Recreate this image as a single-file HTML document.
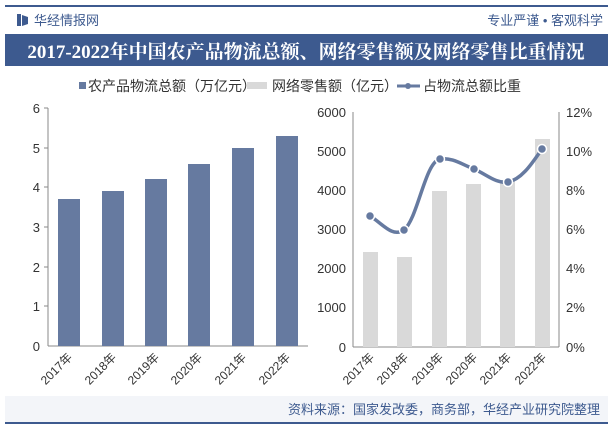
<!DOCTYPE html>
<html><head><meta charset="utf-8"><style>
body{margin:0;width:613px;height:427px;overflow:hidden;background:#fff;font-family:"Liberation Sans","Noto Sans CJK SC",sans-serif;}
</style></head><body>
<svg width="613" height="427" xmlns="http://www.w3.org/2000/svg" font-family="Liberation Sans, Noto Sans CJK SC, sans-serif">
<rect x="5" y="5" width="603" height="2" fill="#3d5a8f"/>
<rect x="17" y="14" width="4" height="12" fill="#3d5a8f"/><path d="M22 15 L28 17 L28 24 L22 26Z" fill="#3d5a8f"/>
<text x="34" y="25" font-size="13" fill="#3d5a8f">华经情报网</text>
<text x="603" y="25" font-size="13" fill="#3d5a8f" text-anchor="end">专业严谨 • 客观科学</text>
<rect x="5" y="34" width="603" height="32" fill="#3d5a8f"/>
<text x="306" y="58" font-size="19" font-weight="bold" fill="#fff" text-anchor="middle" font-family="Liberation Serif, Noto Serif CJK SC, serif">2017-2022年中国农产品物流总额、网络零售额及网络零售比重情况</text>
<rect x="79" y="82" width="7" height="7" fill="#667aa0"/>
<text x="88" y="91" font-size="14" fill="#333">农产品物流总额（万亿元）</text>
<rect x="247" y="82" width="20" height="7" fill="#d9d9d9"/>
<text x="272" y="91" font-size="14" fill="#333">网络零售额（亿元）</text>
<line x1="397" y1="86" x2="420" y2="86" stroke="#667aa0" stroke-width="3"/><circle cx="408" cy="86" r="3" fill="#667aa0"/>
<text x="423" y="91" font-size="14" fill="#333">占物流总额比重</text>
<g font-size="13" fill="#333">
<line x1="48" y1="108" x2="48" y2="346" stroke="#888"/><line x1="48" y1="346" x2="308" y2="346" stroke="#888"/>
<g text-anchor="end">
<text x="40" y="113">6</text><text x="40" y="153">5</text><text x="40" y="192">4</text><text x="40" y="232">3</text><text x="40" y="272">2</text><text x="40" y="311">1</text><text x="40" y="351">0</text></g>
<g stroke="#888"><line x1="44" y1="108" x2="48" y2="108"/><line x1="44" y1="148" x2="48" y2="148"/><line x1="44" y1="187" x2="48" y2="187"/><line x1="44" y1="227" x2="48" y2="227"/><line x1="44" y1="267" x2="48" y2="267"/><line x1="44" y1="306" x2="48" y2="306"/></g>
<g fill="#667aa0">
<rect x="58" y="199" width="22" height="147"/><rect x="102" y="191" width="22" height="155"/><rect x="145" y="179" width="22" height="167"/><rect x="188" y="164" width="22" height="182"/><rect x="232" y="148" width="22" height="198"/><rect x="276" y="136" width="22" height="210"/></g>
<line x1="353" y1="112" x2="353" y2="347" stroke="#888"/><line x1="559" y1="112" x2="559" y2="347" stroke="#888"/><line x1="353" y1="347" x2="559" y2="347" stroke="#888"/>
<g text-anchor="end">
<text x="346" y="117">6000</text><text x="346" y="156">5000</text><text x="346" y="195">4000</text><text x="346" y="234">3000</text><text x="346" y="273">2000</text><text x="346" y="312">1000</text><text x="346" y="352">0</text></g>
<g>
<text x="566" y="117">12%</text><text x="566" y="156">10%</text><text x="566" y="195">8%</text><text x="566" y="234">6%</text><text x="566" y="273">4%</text><text x="566" y="312">2%</text><text x="566" y="352">0%</text></g>
<g fill="#d9d9d9">
<rect x="363" y="252" width="15" height="95"/><rect x="397" y="257" width="15" height="90"/><rect x="432" y="191" width="15" height="156"/><rect x="466" y="184" width="15" height="163"/><rect x="500" y="181" width="15" height="166"/><rect x="535" y="139" width="15" height="208"/></g>
<path d="M370 216 C382 223,392 238,404 230 C418 218,425 162,440 159 C452 157,463 165,474 169 C486 174,496 184,508 182 C523 179,534 160,542 149" fill="none" stroke="#667aa0" stroke-width="3.5"/>
<g fill="#667aa0" stroke="#fff" stroke-width="1.5">
<circle cx="370" cy="216" r="4.5"/><circle cx="404" cy="230" r="4.5"/><circle cx="440" cy="159" r="4.5"/><circle cx="474" cy="169" r="4.5"/><circle cx="508" cy="182" r="4.5"/><circle cx="542" cy="149" r="4.5"/></g>
<g font-size="12">
<text transform="translate(73,358) rotate(-45)" text-anchor="end">2017年</text>
<text transform="translate(117,358) rotate(-45)" text-anchor="end">2018年</text>
<text transform="translate(160,358) rotate(-45)" text-anchor="end">2019年</text>
<text transform="translate(203,358) rotate(-45)" text-anchor="end">2020年</text>
<text transform="translate(247,358) rotate(-45)" text-anchor="end">2021年</text>
<text transform="translate(291,358) rotate(-45)" text-anchor="end">2022年</text>
<text transform="translate(375,358) rotate(-45)" text-anchor="end">2017年</text>
<text transform="translate(409,358) rotate(-45)" text-anchor="end">2018年</text>
<text transform="translate(444,358) rotate(-45)" text-anchor="end">2019年</text>
<text transform="translate(478,358) rotate(-45)" text-anchor="end">2020年</text>
<text transform="translate(512,358) rotate(-45)" text-anchor="end">2021年</text>
<text transform="translate(547,358) rotate(-45)" text-anchor="end">2022年</text>
</g></g>
<rect x="5" y="396" width="603" height="26" fill="#f3f5f9"/>
<text x="600" y="414" font-size="13" fill="#3d5a8f" text-anchor="end">资料来源：国家发改委，商务部，华经产业研究院整理</text>
<rect x="5" y="422" width="603" height="2" fill="#3d5a8f"/>
</svg>
</body></html>
